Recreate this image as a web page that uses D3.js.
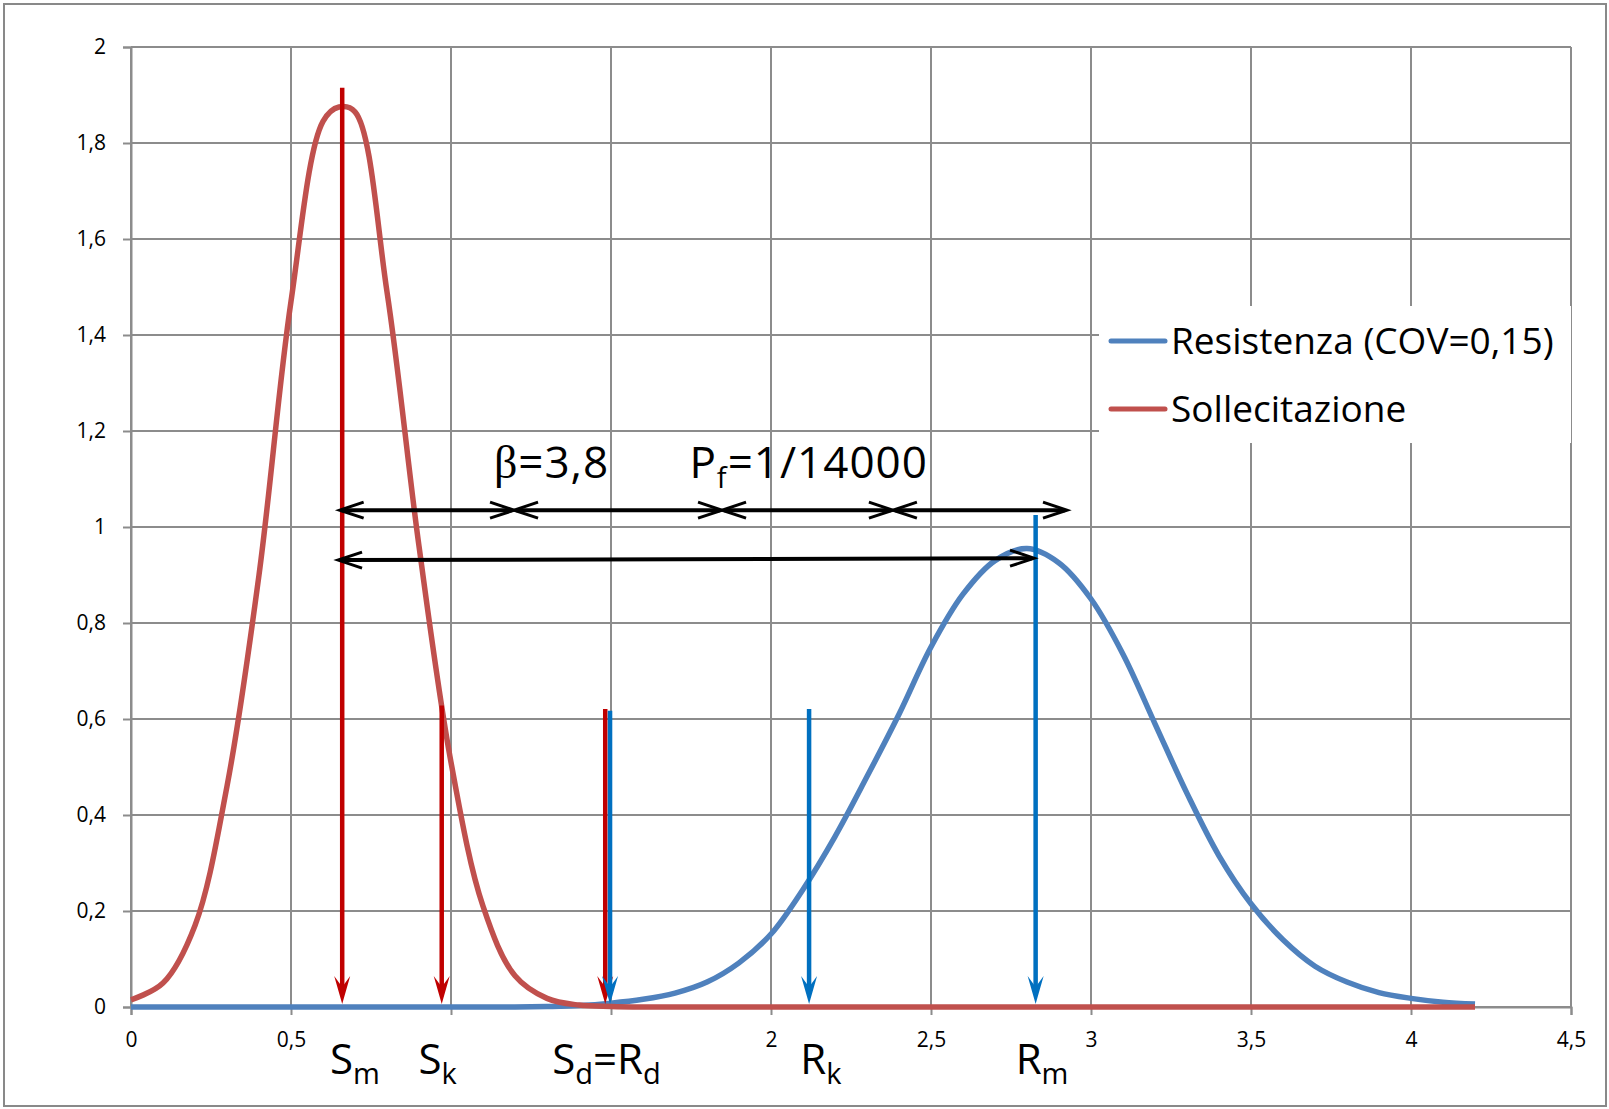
<!DOCTYPE html>
<html>
<head>
<meta charset="utf-8">
<script src="https://cdn.jsdelivr.net/npm/d3@7"></script>
<style>
  body { margin: 0; background: #fff; }
  text { font-family: "Open Sans", sans-serif; fill: #000; }
</style>
</head>
<body>
<div id="chart"></div>
<script>
// Resistenza (COV=0,15)
var resX = [0, 0.1, 0.2, 0.3, 0.4, 0.5, 0.6, 0.7, 0.8, 0.9, 1.0, 1.1, 1.2, 1.3, 1.4, 1.5, 1.6, 1.7, 1.8, 1.9,
            2.0, 2.1, 2.2, 2.3, 2.4, 2.5, 2.6, 2.7, 2.8, 2.9, 3.0, 3.1, 3.2, 3.3, 3.4, 3.5, 3.6, 3.7, 3.8, 3.9,
            4.0, 4.1, 4.2];
var resY = [0, 0, 0, 0, 0, 0, 0, 0, 0, 0, 0, 0, 0, 0.001, 0.003, 0.008, 0.016, 0.029, 0.052, 0.092,
            0.152, 0.245, 0.355, 0.48, 0.61, 0.75, 0.86, 0.93, 0.955, 0.925, 0.85, 0.735, 0.59, 0.445, 0.315, 0.215, 0.14, 0.085, 0.052, 0.03,
            0.018, 0.01, 0.006];

// Sollecitazione
var solX = [0, 0.1, 0.2, 0.3, 0.4, 0.5, 0.6, 0.65, 0.7, 0.8, 0.9, 1.0, 1.1, 1.2, 1.3, 1.4, 1.5, 1.6, 1.7, 1.8, 1.9,
            2.0, 2.2, 2.4, 2.6, 2.8, 3.0, 3.2, 3.4, 3.6, 3.8, 4.0, 4.2];
var solY = [0.015, 0.05, 0.17, 0.46, 0.9, 1.47, 1.845, 1.875, 1.865, 1.49, 0.96, 0.51, 0.21, 0.065, 0.018, 0.004, 0.001, 0, 0, 0, 0,
            0, 0, 0, 0, 0, 0, 0, 0, 0, 0, 0, 0];

var seriesNames = ["Resistenza (COV=0,15)", "Sollecitazione"];

// axis ticks ("1" and "1,5" are hidden under the S labels in the original)
var xTicks = [0, 0.5, 1, 1.5, 2, 2.5, 3, 3.5, 4, 4.5];
var xTickLabels = ["0", "0,5", "", "", "2", "2,5", "3", "3,5", "4", "4,5"];
var yTicks = [0, 0.2, 0.4, 0.6, 0.8, 1, 1.2, 1.4, 1.6, 1.8, 2];
var yTickLabels = ["0", "0,2", "0,4", "0,6", "0,8", "1", "1,2", "1,4", "1,6", "1,8", "2"];

// vertical marker arrows (S = sollecitazione, R = resistenza)
var markerSeries = ["S", "S", "S", "R", "R", "R"];
var markerX = [0.66, 0.971, 1.482, 1.497, 2.119, 2.827];
var markerTop = [1.915, 0.628, 0.621, 0.617, 0.621, 1.025];

// labels under the axis: main letter + subscript, centred on x
var labelMain = [["S"], ["S"], ["S", "=R"], ["R"], ["R"]];
var labelSub = [["m"], ["k"], ["d", "d"], ["k"], ["m"]];
var labelX = [0.70, 0.958, 1.486, 2.156, 2.847];

// double arrows for beta
var spanStart = [0.652, 1.197, 1.847, 2.381];
var spanEnd = [1.197, 1.847, 2.381, 2.925];
var spanY = 1.035;
var longArrowX = [0.647, 2.822];
var longArrowY = [0.931, 0.935];

var svgWidth = 1609;
var svgHeight = 1109;

var margin = {
  top: 47,
  right: 38,
  bottom: 102,
  left: 131
};

var width = svgWidth - margin.left - margin.right;
var height = svgHeight - margin.top - margin.bottom;

var svg = d3
  .select("#chart")
  .append("svg")
  .attr("width", svgWidth)
  .attr("height", svgHeight);

// outer chart border
svg.append("rect")
  .attr("x", 4)
  .attr("y", 4)
  .attr("width", svgWidth - 7)
  .attr("height", svgHeight - 7)
  .attr("fill", "#fff")
  .attr("stroke", "#898989")
  .attr("stroke-width", 2);

var chartGroup = svg.append("g")
  .attr("transform", `translate(${margin.left}, ${margin.top})`);

var xScale = d3.scaleLinear()
  .domain([0, 4.5])
  .range([0, width]);

var yScale = d3.scaleLinear()
  .domain([0, 2])
  .range([height, 0]);

var gridColor = "#8c8c8c";

// gridlines
chartGroup.selectAll(".vgrid")
  .data(xTicks)
  .enter()
  .append("line")
  .attr("x1", d => xScale(d))
  .attr("x2", d => xScale(d))
  .attr("y1", 0)
  .attr("y2", height)
  .attr("stroke", gridColor)
  .attr("stroke-width", 2);

chartGroup.selectAll(".hgrid")
  .data(yTicks)
  .enter()
  .append("line")
  .attr("x1", 0)
  .attr("x2", width)
  .attr("y1", d => yScale(d))
  .attr("y2", d => yScale(d))
  .attr("stroke", gridColor)
  .attr("stroke-width", 2);

// axes
var leftAxis = d3.axisLeft(yScale)
  .tickValues(yTicks)
  .tickSize(8)
  .tickPadding(17)
  .tickFormat((d, i) => yTickLabels[i]);

var bottomAxis = d3.axisBottom(xScale)
  .tickValues(xTicks)
  .tickSize(8)
  .tickPadding(17)
  .tickFormat((d, i) => xTickLabels[i]);

var yAxisG = chartGroup.append("g").call(leftAxis);
var xAxisG = chartGroup.append("g")
  .attr("transform", `translate(0, ${height})`)
  .call(bottomAxis);

[yAxisG, xAxisG].forEach(function(g) {
  g.select(".domain").attr("stroke", gridColor).attr("stroke-width", 2);
  g.selectAll(".tick line").attr("stroke", gridColor).attr("stroke-width", 2);
  g.selectAll(".tick text")
    .style("font-family", "'Open Sans', sans-serif")
    .style("font-size", "21px")
    .attr("fill", "#000");
});

// curves
var line = d3.line()
  .x(d => xScale(d[0]))
  .y(d => yScale(d[1]))
  .curve(d3.curveCatmullRom.alpha(0.5));

var resData = resX.map((x, i) => [x, resY[i]]);
var solData = solX.map((x, i) => [x, solY[i]]);

chartGroup.append("path")
  .datum(resData)
  .attr("d", line)
  .attr("fill", "none")
  .attr("stroke", "#4f81bd")
  .attr("stroke-width", 5.5)
  .attr("stroke-linejoin", "round");

chartGroup.append("path")
  .datum(solData)
  .attr("d", line)
  .attr("fill", "none")
  .attr("stroke", "#c0504d")
  .attr("stroke-width", 5.5)
  .attr("stroke-linejoin", "round");

// vertical marker arrows
var markerColor = { S: "#c00000", R: "#0070c0" };
var tipY = yScale(0) - 3;

markerX.forEach(function(mx, i) {
  var cx = xScale(mx);
  var col = markerColor[markerSeries[i]];
  chartGroup.append("line")
    .attr("x1", cx)
    .attr("x2", cx)
    .attr("y1", yScale(markerTop[i]))
    .attr("y2", tipY - 14)
    .attr("stroke", col)
    .attr("stroke-width", 4.5);
  chartGroup.append("path")
    .attr("d", `M${cx},${tipY} L${cx - 8},${tipY - 28} L${cx},${tipY - 17} L${cx + 8},${tipY - 28} Z`)
    .attr("fill", col);
});

// black double arrows
function openHead(g, x, y, dir) {
  g.append("polyline")
    .attr("points", `${x + dir * 24},${y - 8} ${x},${y} ${x + dir * 24},${y + 8}`)
    .attr("fill", "none")
    .attr("stroke", "#000")
    .attr("stroke-width", 3)
    .attr("stroke-linejoin", "miter");
}

function doubleArrow(x1, y1, x2, y2) {
  var px1 = xScale(x1), py1 = yScale(y1), px2 = xScale(x2), py2 = yScale(y2);
  chartGroup.append("line")
    .attr("x1", px1 + 2)
    .attr("y1", py1)
    .attr("x2", px2 - 2)
    .attr("y2", py2)
    .attr("stroke", "#000")
    .attr("stroke-width", 4);
  openHead(chartGroup, px1, py1, 1);
  openHead(chartGroup, px2, py2, -1);
}

spanStart.forEach(function(s, i) {
  doubleArrow(s, spanY, spanEnd[i], spanY);
});
doubleArrow(longArrowX[0], longArrowY[0], longArrowX[1], longArrowY[1]);

// beta and Pf text
var betaText = chartGroup.append("text")
  .attr("x", xScale(1.134))
  .attr("y", yScale(1.102))
  .style("font-size", "44px")
  .attr("letter-spacing", "1");
betaText.append("tspan").style("font-family", "'Liberation Serif', serif").style("font-size", "46px").text("β");
betaText.append("tspan").text("=3,8");

var pfText = chartGroup.append("text")
  .attr("x", xScale(1.745))
  .attr("y", yScale(1.102))
  .style("font-size", "44px")
  .attr("letter-spacing", "1");
pfText.append("tspan").text("P");
pfText.append("tspan").attr("dy", 10).style("font-size", "29px").text("f");
pfText.append("tspan").attr("dy", -10).text("=1/14000");

// labels under the x axis
labelX.forEach(function(lx, i) {
  var t = chartGroup.append("text")
    .attr("x", xScale(lx))
    .attr("y", height + 67)
    .attr("text-anchor", "middle")
    .style("font-size", "42px");
  labelMain[i].forEach(function(m, j) {
    t.append("tspan").attr("dy", j === 0 ? 0 : -10).text(m);
    t.append("tspan").attr("dy", 10).style("font-size", "29px").text(labelSub[i][j]);
  });
});

// legend
var legend = svg.append("g");
legend.append("rect")
  .attr("x", 1099)
  .attr("y", 306)
  .attr("width", 472)
  .attr("height", 137)
  .attr("fill", "#fff");

var legendColors = ["#4f81bd", "#c0504d"];
seriesNames.forEach(function(name, i) {
  var ly = 341 + i * 68;
  legend.append("line")
    .attr("x1", 1111)
    .attr("x2", 1165)
    .attr("y1", ly)
    .attr("y2", ly)
    .attr("stroke", legendColors[i])
    .attr("stroke-width", 5)
    .attr("stroke-linecap", "round");
  legend.append("text")
    .attr("x", 1171)
    .attr("y", ly + 13)
    .style("font-size", "37px")
    .text(name);
});
</script>
</body>
</html>
